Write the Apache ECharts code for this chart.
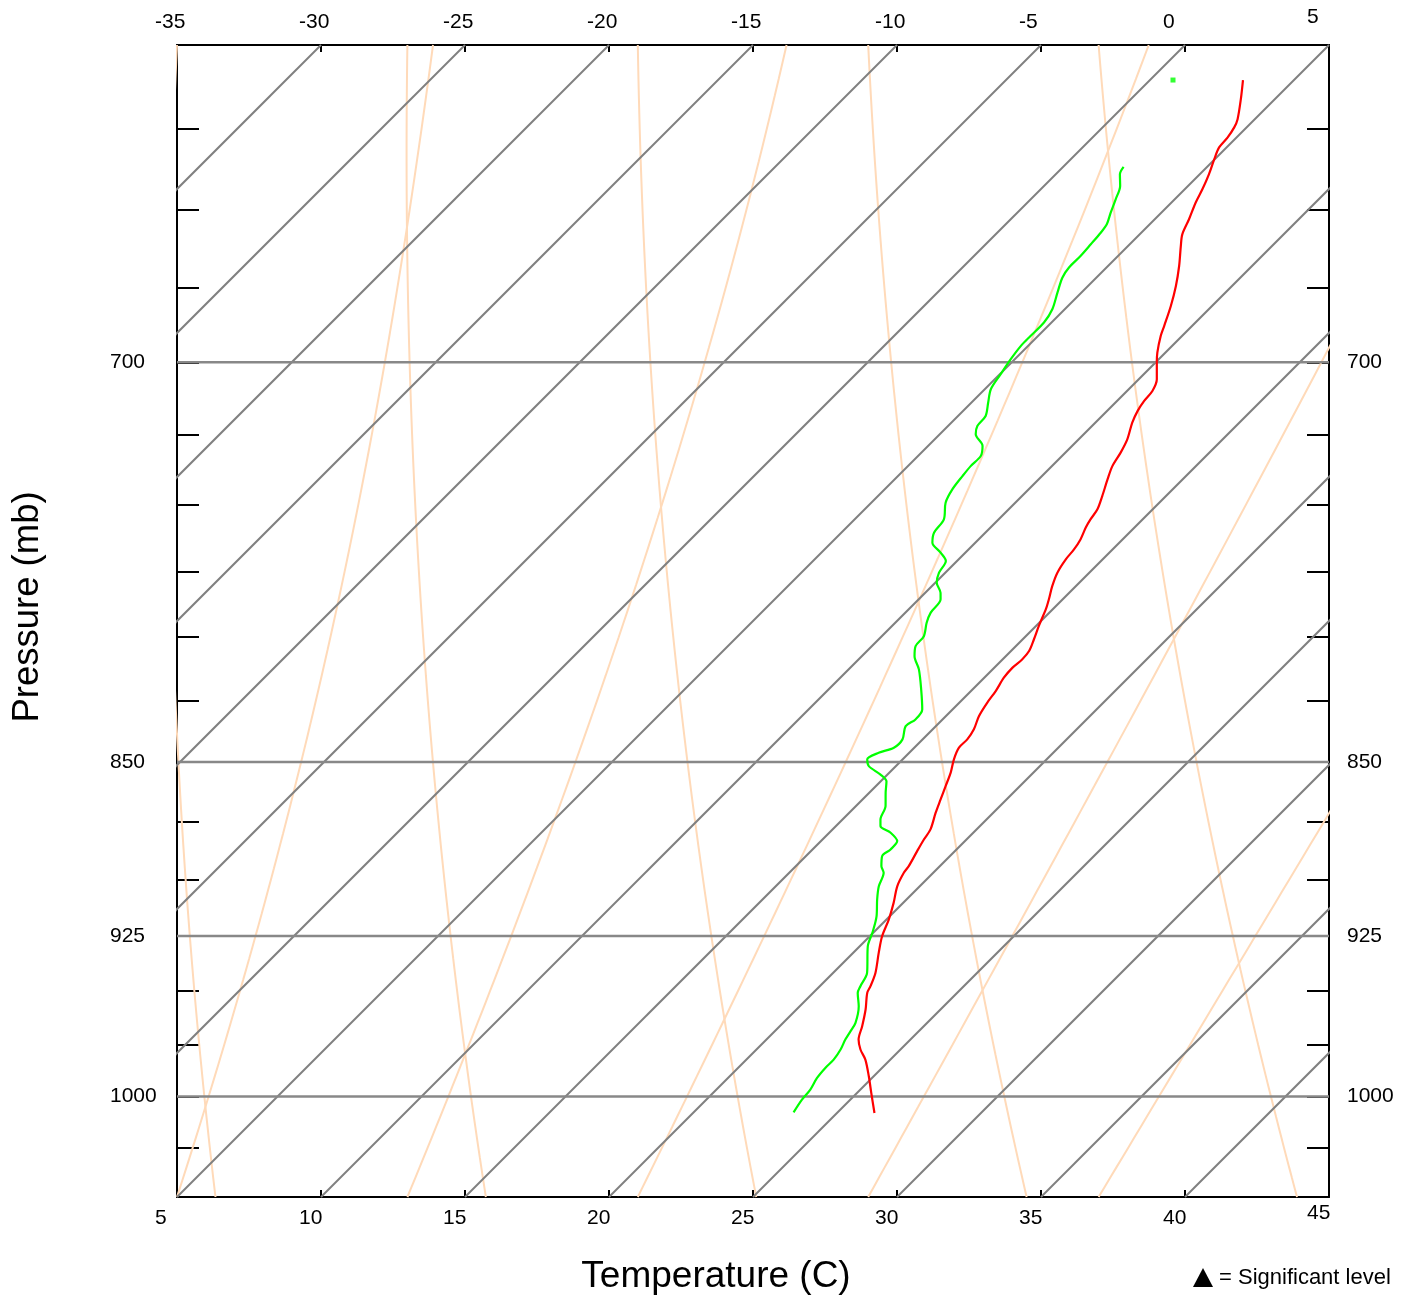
<!DOCTYPE html>
<html>
<head>
<meta charset="utf-8">
<script src="https://cdn.jsdelivr.net/npm/echarts@6/dist/echarts.min.js"></script>
<style>
html,body{margin:0;padding:0;background:#fff;}
#chart{width:1405px;height:1306px;}
</style>
</head>
<body>
<div id="chart"></div>
<script>
// ---------------- data (pressure in mb, temperature in °C) ----------------
const tempPressure = [
  610.3, 616.0, 622.0, 624.5, 627.6, 630.6, 634.2, 638.9, 643.5, 647.7,
  653.0, 657.8, 661.5, 668.0, 674.5, 681.1, 687.7, 691.1, 696.7, 700.1,
  705.8, 709.8, 713.3, 716.7, 720.8, 726.7, 731.4, 736.2, 740.9, 747.0,
  751.8, 755.5, 758.5, 762.9, 766.6, 770.3, 775.3, 780.4, 785.4, 789.2,
  795.7, 800.8, 805.4, 808.7, 811.9, 815.9, 821.2, 825.9, 831.3, 836.6,
  840.7, 844.1, 848.9, 854.4, 860.0, 865.6, 871.2, 878.3, 882.6, 887.6,
  894.1, 897.0, 902.9, 910.2, 917.6, 925.1, 932.6, 941.7, 947.8, 950.9,
  958.6, 966.4, 972.7, 977.4, 982.2, 990.2, 998.2, 1008.0
];
const tempValues = [
  3.23, 3.82, 4.40, 4.57, 4.69, 4.74, 4.98, 5.32, 5.61, 5.84,
  6.19, 6.48, 6.83, 7.47, 8.05, 8.57, 9.03, 9.26, 9.72, 10.05,
  10.63, 10.88, 10.94, 11.06, 11.28, 11.69, 11.92, 12.10, 12.39, 12.79,
  13.08, 13.19, 13.31, 13.54, 13.66, 13.72, 13.89, 14.18, 14.52, 14.76,
  15.10, 15.39, 15.63, 15.68, 15.63, 15.68, 15.86, 15.97, 16.15, 16.43,
  16.55, 16.55, 16.78, 17.13, 17.42, 17.71, 18.00, 18.40, 18.52, 18.69,
  18.92, 18.98, 19.22, 19.67, 20.08, 20.43, 20.89, 21.47, 21.76, 21.88,
  22.40, 22.86, 23.20, 23.61, 24.13, 24.83, 25.49, 26.30
];
const dewPressure = [
  636.6, 638.9, 642.5, 646.7, 650.9, 654.6, 657.2, 661.0, 664.7, 668.5,
  671.8, 676.7, 682.2, 686.6, 691.6, 694.5, 699.0, 704.1, 709.2, 713.8,
  718.5, 722.0, 724.9, 729.0, 732.6, 736.2, 739.7, 744.5, 749.4, 755.5,
  760.4, 764.1, 767.8, 770.9, 775.3, 779.1, 782.9, 785.4, 790.5, 794.4,
  799.6, 803.5, 807.4, 812.6, 820.6, 828.6, 832.6, 835.3, 840.7, 844.1,
  846.2, 848.9, 851.7, 855.2, 858.0, 862.8, 868.4, 874.1, 876.9, 879.7,
  883.3, 886.9, 889.8, 894.1, 897.0, 902.9, 908.7, 916.1, 923.5, 929.6,
  941.7, 947.8, 950.9, 957.1, 964.8, 968.8, 972.7, 977.4, 982.2, 986.2,
  991.0, 996.6, 1001.5, 1007.7
];
const dewValues = [
  2.10, 2.23, 2.64, 2.95, 3.24, 3.51, 3.59, 3.65, 3.70, 3.70,
  3.82, 4.17, 4.57, 4.74, 4.74, 4.75, 4.86, 5.03, 5.21, 5.58,
  5.96, 6.02, 6.25, 6.89, 7.18, 7.18, 7.24, 7.35, 7.58, 8.10,
  8.22, 8.51, 9.14, 9.61, 9.78, 10.05, 10.53, 10.76, 10.88, 11.09,
  11.46, 11.52, 11.83, 12.44, 13.22, 13.95, 14.06, 13.95, 14.30, 14.29,
  13.94, 13.77, 14.06, 14.76, 15.20, 15.57, 16.03, 16.32, 16.55, 17.13,
  17.65, 17.71, 17.65, 17.97, 18.28, 18.58, 18.98, 19.54, 19.97, 20.28,
  21.18, 21.41, 21.55, 22.05, 22.51, 22.63, 22.74, 22.92, 23.03, 23.03,
  23.09, 23.26, 23.32, 23.47
];
const dewIsolatedPressure = [610.3];
const dewIsolatedValues = [0.8];

// diagram furniture
const isothermTemps = [-30, -25, -20, -15, -10, -5, 0, 5, 10, 15, 20, 25, 30, 35, 40];
const dryAdiabatTopTemps = [-35, -27, -19, -11, -3];   // °C at 600 mb
const moistAdiabatBaseTemps = [5, 13, 21, 29, 37];     // °C at 1050 mb
const pressureLines = [700, 850, 925, 1000];
const pressureLabels = [700, 850, 925, 1000];
const pressureTicks = [600, 625, 650, 675, 700, 725, 750, 775, 800, 825, 850, 875, 900, 925, 950, 975, 1000, 1025, 1050];
const P_TOP = 600, P_BOT = 1050, SKEW = 40;
const T_BOT_MIN = 5, T_BOT_MAX = 45, T_TOP_MIN = -35, T_TOP_MAX = 5;

// ---------------- skew-T transform ----------------
const LN = Math.log;
function skewX(T, p) { return T + SKEW * (LN(P_BOT) - LN(p)) / (LN(P_BOT) - LN(P_TOP)); }
function pt(T, p) { return [skewX(T, p), LN(p)]; }

function dryAdiabat(Ttop) {
  const theta = (Ttop + 273.15) / Math.pow(P_TOP / 1000, 0.286);
  const out = [];
  for (let p = P_TOP; p <= P_BOT; p += 5) out.push(pt(theta * Math.pow(p / 1000, 0.286) - 273.15, p));
  return out;
}
function dTdp(T, p) {
  const Tc = T - 273.15;
  const e = 6.112 * Math.exp(17.67 * Tc / (Tc + 243.5));
  const rs = 0.622 * e / (p - e);
  const L = 2.501e6, Rd = 287.04, cp = 1005.7;
  return (Rd * T + L * rs) / (p * (cp + L * L * rs * 0.622 / (Rd * T * T)));
}
function moistAdiabat(Tbase) {
  const out = [];
  let T = Tbase + 273.15;
  for (let p = P_BOT; p >= P_TOP; p -= 1) {
    if ((P_BOT - p) % 5 === 0) out.push(pt(T - 273.15, p));
    const k = dTdp(T - 0.5 * dTdp(T, p), p - 0.5);
    T -= k;
  }
  return out;
}

const FONT = '"Liberation Sans", Arial, sans-serif';
const series = [];
dryAdiabatTopTemps.forEach(t => series.push({
  type: 'line', xAxisIndex: 0, yAxisIndex: 0, data: dryAdiabat(t), showSymbol: false, silent: true,
  lineStyle: { color: '#ffdab9', width: 2 }, z: 2, clip: false
}));
moistAdiabatBaseTemps.forEach(t => series.push({
  type: 'line', xAxisIndex: 0, yAxisIndex: 0, data: moistAdiabat(t), showSymbol: false, silent: true,
  lineStyle: { color: '#ffdab9', width: 2 }, z: 2, clip: true
}));
isothermTemps.forEach(t => series.push({
  type: 'line', xAxisIndex: 0, yAxisIndex: 0, data: [pt(t, P_BOT), pt(t, P_TOP)], showSymbol: false, silent: true,
  lineStyle: { color: '#808080', width: 2 }, z: 3, clip: true
}));
pressureLines.forEach(p => series.push({
  type: 'line', xAxisIndex: 0, yAxisIndex: 0, data: [[T_BOT_MIN, LN(p)], [T_BOT_MAX, LN(p)]], showSymbol: false, silent: true,
  lineStyle: { color: '#888888', width: 2.5 }, z: 3, clip: true
}));
series.push({
  type: 'line', xAxisIndex: 0, yAxisIndex: 0, name: 'Temperature',
  data: tempPressure.map((p, i) => pt(tempValues[i], p)),
  showSymbol: false, smooth: 0.3, lineStyle: { color: '#ff0000', width: 2.2 }, z: 6, clip: true
});
series.push({
  type: 'line', xAxisIndex: 0, yAxisIndex: 0, name: 'Dewpoint',
  data: dewPressure.map((p, i) => pt(dewValues[i], p)),
  showSymbol: false, smooth: 0.3, lineStyle: { color: '#00ff00', width: 2.2 }, z: 6, clip: true
});
series.push({
  type: 'scatter', xAxisIndex: 0, yAxisIndex: 0, name: 'Dewpoint top',
  data: dewIsolatedPressure.map((p, i) => pt(dewIsolatedValues[i], p)),
  symbol: 'rect', symbolSize: 5, itemStyle: { color: '#00ff00' }, z: 6
});

const blackLine = { show: true, onZero: false, lineStyle: { color: '#000', width: 2 } };
const chart = echarts.init(document.getElementById('chart'), null, { renderer: 'canvas' });
chart.setOption({
  animation: false,
  backgroundColor: '#fff',
  grid: [
    { left: 177, top: 45, width: 1152, height: 1152 },
    { left: 155, top: 45, width: 1152, height: 1152 }
  ],
  xAxis: [
    { gridIndex: 0, type: 'value', position: 'bottom', min: T_BOT_MIN, max: T_BOT_MAX, interval: 5,
      axisLine: blackLine, axisTick: { show: true, inside: true, length: 7, lineStyle: { color: '#000', width: 2 } },
      axisLabel: { show: false }, splitLine: { show: false } },
    { gridIndex: 0, type: 'value', position: 'top', min: T_TOP_MIN, max: T_TOP_MAX, interval: 5,
      axisLine: blackLine, axisTick: { show: true, inside: true, length: 7, lineStyle: { color: '#000', width: 2 } },
      axisLabel: { show: false }, splitLine: { show: false } },
    { gridIndex: 1, type: 'value', position: 'bottom', min: T_BOT_MIN, max: T_BOT_MAX, interval: 5,
      axisLine: { show: false }, axisTick: { show: false }, splitLine: { show: false },
      axisLabel: { show: true, align: 'left', margin: 6, showMinLabel: true, showMaxLabel: true, hideOverlap: false,
        formatter: v => v === T_BOT_MAX ? '{r|' + v + '}' : '{n|' + v + '}',
        rich: { n: { fontSize: 21, fontFamily: FONT, color: '#000', lineHeight: 30 },
                r: { fontSize: 21, fontFamily: FONT, color: '#000', lineHeight: 20 } } } },
    { gridIndex: 1, type: 'value', position: 'top', min: T_TOP_MIN, max: T_TOP_MAX, interval: 5,
      axisLine: { show: false }, axisTick: { show: false }, splitLine: { show: false },
      axisLabel: { show: true, align: 'left', margin: 13, showMinLabel: true, showMaxLabel: true, hideOverlap: false,
        formatter: v => v === T_TOP_MAX ? '{r|' + v + '}' : '{n|' + v + '}',
        rich: { n: { fontSize: 21, fontFamily: FONT, color: '#000', lineHeight: 20 },
                r: { fontSize: 21, fontFamily: FONT, color: '#000', lineHeight: 30 } } } }
  ],
  yAxis: [
    { gridIndex: 0, type: 'value', position: 'left', min: LN(P_TOP), max: LN(P_BOT), inverse: true,
      axisLine: blackLine,
      axisTick: { show: true, inside: true, length: 22, lineStyle: { color: '#000', width: 2 }, customValues: pressureTicks.map(LN) },
      axisLabel: { show: true, customValues: pressureLabels.map(LN), formatter: v => String(Math.round(Math.exp(v))),
        align: 'left', margin: 67, fontSize: 21, fontFamily: FONT, color: '#000' },
      splitLine: { show: false } },
    { gridIndex: 0, type: 'value', position: 'right', min: LN(P_TOP), max: LN(P_BOT), inverse: true,
      axisLine: blackLine,
      axisTick: { show: true, inside: true, length: 22, lineStyle: { color: '#000', width: 2 }, customValues: pressureTicks.map(LN) },
      axisLabel: { show: true, customValues: pressureLabels.map(LN), formatter: v => String(Math.round(Math.exp(v))),
        align: 'left', margin: 18, fontSize: 21, fontFamily: FONT, color: '#000' },
      splitLine: { show: false } },
    { gridIndex: 1, type: 'value', min: 0, max: 1, show: false }
  ],
  graphic: [
    { type: 'text', x: 28, y: 607, rotation: Math.PI / 2,
      style: { text: 'Pressure (mb)', font: '36.5px ' + FONT, fill: '#000', align: 'center', verticalAlign: 'middle', textAlign: 'center', textVerticalAlign: 'middle' } },
    { type: 'text', x: 716, y: 1277,
      style: { text: 'Temperature (C)', font: '37px ' + FONT, fill: '#000', align: 'center', verticalAlign: 'middle', textAlign: 'center', textVerticalAlign: 'middle' } },
    { type: 'polygon', shape: { points: [[1193, 1287], [1213, 1287], [1203, 1268]] }, style: { fill: '#000' } },
    { type: 'text', x: 1219, y: 1278,
      style: { text: '= Significant level', font: '22px ' + FONT, fill: '#000', align: 'left', verticalAlign: 'middle', textAlign: 'left', textVerticalAlign: 'middle' } }
  ],
  series: series
});
</script>
</body>
</html>
